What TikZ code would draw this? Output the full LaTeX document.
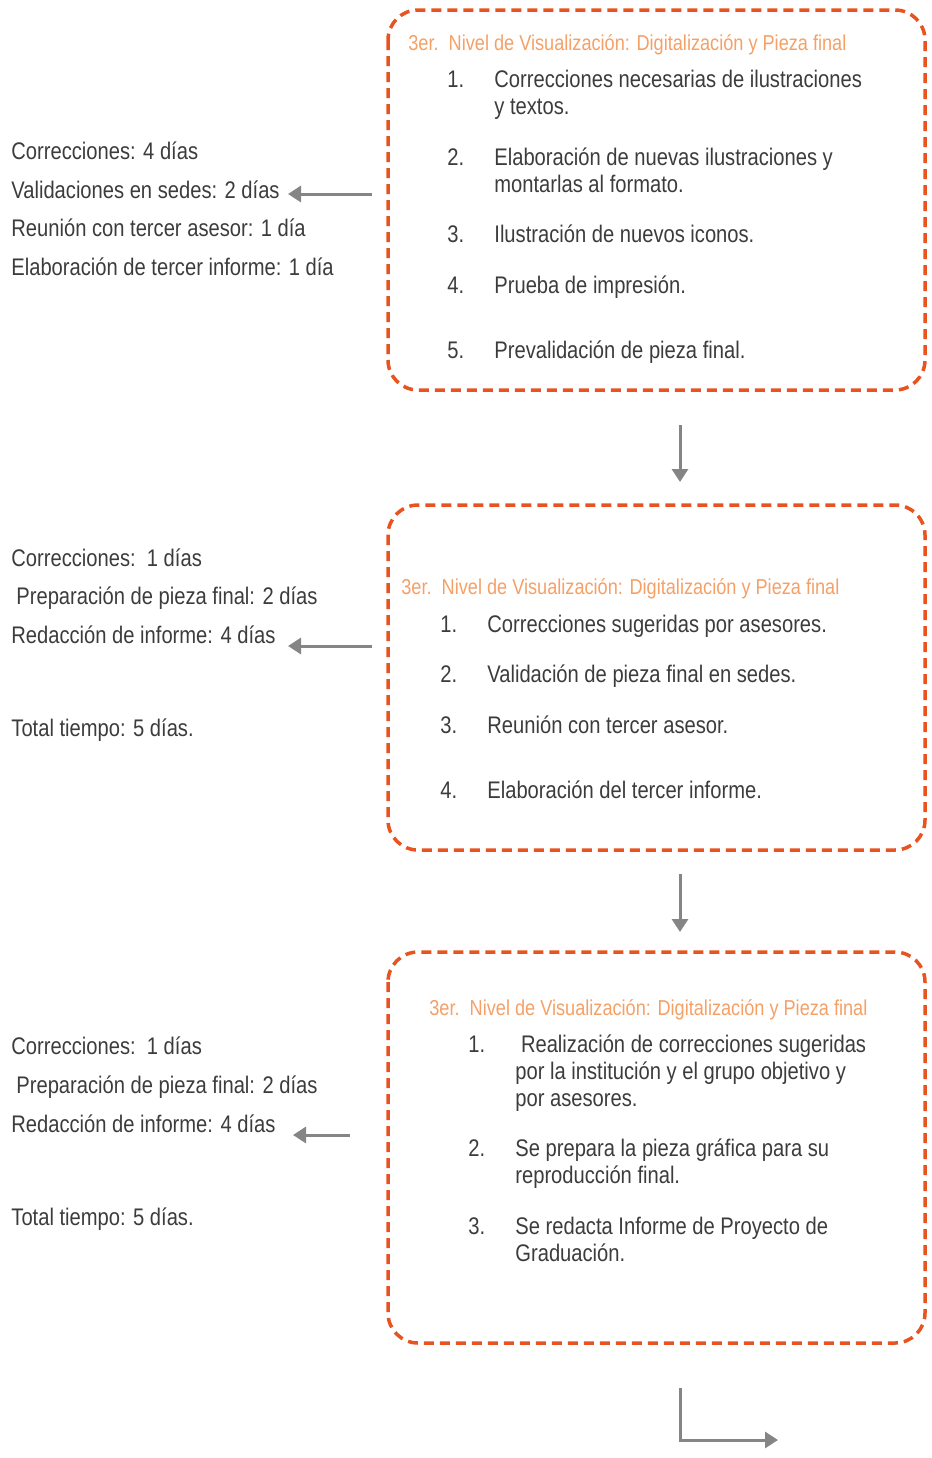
\documentclass[tikz,border=0pt]{standalone}
\usepackage{fontspec}
\setmainfont{Liberation Sans}[FakeStretch=0.84]
\usetikzlibrary{arrows.meta}
\definecolor{boxorange}{HTML}{E8531F}
\definecolor{titleorange}{HTML}{F5A066}
\definecolor{txtgray}{HTML}{3C3C3C}
\definecolor{arrowgray}{HTML}{858585}
\begin{document}
\begin{tikzpicture}[x=0.5pt,y=-0.5pt,
  frame/.style={draw=boxorange, line width=1.75pt, dash pattern=on 5pt off 3pt, rounded corners=15pt},
  ttl/.style={anchor=base west, inner sep=0pt, text=titleorange, font=\fontsize{10.8}{13.5}\selectfont},
  txt/.style={anchor=base west, inner sep=0pt, text=txtgray, align=left, font=\fontsize{12}{13.5}\selectfont},
  garrow/.style={draw=arrowgray, line width=1.5pt, -{Triangle[length=6.5pt,width=8pt]}}]
\useasboundingbox (0,0) rectangle (932,1458);
% boxes
\draw[frame] (388,10) rectangle (925,390);
\draw[frame] (388,505) rectangle (925,850);
\draw[frame] (388,952) rectangle (925,1343);
% box 1 (multi-line nodes are placed by the baseline of their last line)
\node[ttl] (t1) at (408,50) {3er.\ \ Nivel de Visualización: Digitalización y Pieza final};
\node[txt] (n11) at (447,87) {1.};
\node[txt] (i11) at (494,114) {Correcciones necesarias de ilustraciones\\y textos.};
\node[txt] (n12) at (447,165) {2.};
\node[txt] (i12) at (494,192) {Elaboración de nuevas ilustraciones y\\montarlas al formato.};
\node[txt] (n13) at (447,242) {3.};
\node[txt] (i13) at (494,242) {Ilustración de nuevos iconos.};
\node[txt] (n14) at (447,293) {4.};
\node[txt] (i14) at (494,293) {Prueba de impresión.};
\node[txt] (n15) at (447,358) {5.};
\node[txt] (i15) at (494,358) {Prevalidación de pieza final.};
% left 1
\node[txt] (l11) at (11,159) {Correcciones: 4 días};
\node[txt] (l12) at (11,198) {Validaciones en sedes: 2 días};
\node[txt] (l13) at (11,236) {Reunión con tercer asesor: 1 día};
\node[txt] (l14) at (11,275) {Elaboración de tercer informe: 1 día};
% box 2
\node[ttl] (t2) at (401,594) {3er.\ \ Nivel de Visualización: Digitalización y Pieza final};
\node[txt] (n21) at (440,632) {1.};
\node[txt] (i21) at (487,632) {Correcciones sugeridas por asesores.};
\node[txt] (n22) at (440,682) {2.};
\node[txt] (i22) at (487,682) {Validación de pieza final en sedes.};
\node[txt] (n23) at (440,733) {3.};
\node[txt] (i23) at (487,733) {Reunión con tercer asesor.};
\node[txt] (n24) at (440,798) {4.};
\node[txt] (i24) at (487,798) {Elaboración del tercer informe.};
% left 2
\node[txt] (l21) at (11,566) {Correcciones:\ \ 1 días};
\node[txt] (l22) at (16,604) {Preparación de pieza final: 2 días};
\node[txt] (l23) at (11,643) {Redacción de informe: 4 días};
\node[txt] (l24) at (11,736) {Total tiempo: 5 días.};
% box 3
\node[ttl] (t3) at (429,1015) {3er.\ \ Nivel de Visualización: Digitalización y Pieza final};
\node[txt] (n31) at (468,1052) {1.};
\node[txt] (i31) at (515,1106) {\ Realización de correcciones sugeridas\\por la institución y el grupo objetivo y\\por asesores.};
\node[txt] (n32) at (468,1156) {2.};
\node[txt] (i32) at (515,1183) {Se prepara la pieza gráfica para su\\reproducción final.};
\node[txt] (n33) at (468,1234) {3.};
\node[txt] (i33) at (515,1261) {Se redacta Informe de Proyecto de\\Graduación.};
% left 3
\node[txt] (l31) at (11,1054) {Correcciones:\ \ 1 días};
\node[txt] (l32) at (16,1093) {Preparación de pieza final: 2 días};
\node[txt] (l33) at (11,1132) {Redacción de informe: 4 días};
\node[txt] (l34) at (11,1225) {Total tiempo: 5 días.};
% arrows
\coordinate (a1s) at (372,194); \coordinate (a1e) at (288,194);
\coordinate (d1s) at (680,425); \coordinate (d1e) at (680,482);
\coordinate (a2s) at (372,646); \coordinate (a2e) at (288,646);
\coordinate (d2s) at (680,874); \coordinate (d2e) at (680,932);
\coordinate (a3s) at (350,1135); \coordinate (a3e) at (293,1135);
\coordinate (fs) at (680,1388); \coordinate (fc) at (680,1440); \coordinate (fe) at (778,1440);
\draw[garrow] (a1s) -- (a1e);
\draw[garrow] (d1s) -- (d1e);
\draw[garrow] (a2s) -- (a2e);
\draw[garrow] (d2s) -- (d2e);
\draw[garrow] (a3s) -- (a3e);
\draw[garrow] (fs) -- (fc) -- (fe);
\end{tikzpicture}
\end{document}
